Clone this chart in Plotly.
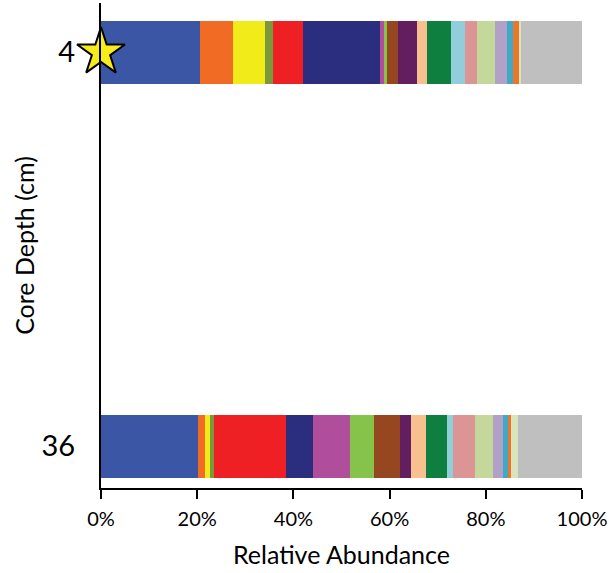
import plotly.graph_objects as go

depths = [4, 36]
taxa = ["T1", "T2", "T3", "T4", "T5", "T6", "T7", "T8", "T9", "T10",
        "T11", "T12", "T13", "T14", "T15", "T16", "T17", "T18", "T19", "Other"]
colors = ["#3A56A5", "#F26B24", "#F1EB1A", "#7A9A3A", "#EE2024", "#2B2E7E",
          "#B14E9C", "#86C34A", "#97471F", "#621E5F", "#F9C08F", "#0E7F3E",
          "#92CDDC", "#DA9594", "#C5D89C", "#B2A1C7", "#3EAAC8", "#E9762B",
          "#D7E4BD", "#BFBFBF"]
depth4 = [20.5, 7.0, 6.5, 1.7, 6.3, 16.0, 1.0, 0.4, 2.4, 3.9,
          2.0, 5.0, 2.9, 2.5, 3.9, 2.4, 1.3, 1.2, 0.5, 12.6]
depth36 = [20.1, 1.6, 0.9, 0.9, 14.9, 5.6, 7.7, 5.1, 5.3, 2.3,
           3.2, 4.4, 1.2, 4.6, 3.6, 2.1, 1.2, 0.5, 1.5, 13.3]
star_depth = 4

fig = go.Figure()
for i, name in enumerate(taxa):
    fig.add_trace(go.Bar(
        y=depths, x=[depth4[i], depth36[i]], orientation="h",
        name=name, marker=dict(color=colors[i], line=dict(width=0)),
        width=5.1, showlegend=False, hoverinfo="x+name"))

fig.add_trace(go.Scatter(
    x=[0], y=[star_depth], mode="markers",
    marker=dict(symbol="star", size=36, color="#F7EC1B",
                line=dict(color="black", width=2)),
    cliponaxis=False, showlegend=False, hoverinfo="skip"))

fig.update_layout(
    barmode="stack", bargap=0,
    width=609, height=573,
    margin=dict(l=101, r=27, t=3, b=85),
    paper_bgcolor="white", plot_bgcolor="white",
    font=dict(family="Lato", color="black"),
    xaxis=dict(range=[0, 100], tickvals=[0, 20, 40, 60, 80, 100],
               ticktext=["0%", "20%", "40%", "60%", "80%", "100%"],
               showgrid=False, zeroline=False, showline=True,
               linecolor="black", linewidth=2, ticks="outside",
               ticklen=9, tickwidth=2, tickcolor="black",
               tickfont=dict(size=20), ticklabelstandoff=3,
               title=dict(text="Relative Abundance", font=dict(size=25), standoff=17)),
    yaxis=dict(range=[39.4, 0], tickvals=depths, ticktext=["4", "36"],
               showgrid=False, zeroline=False, showline=True,
               linecolor="black", linewidth=2, ticks="",
               tickfont=dict(size=29), ticklabelstandoff=18,
               title=dict(text="Core Depth (cm)", font=dict(size=25), standoff=0)),
)

fig.write_html("out.html")
